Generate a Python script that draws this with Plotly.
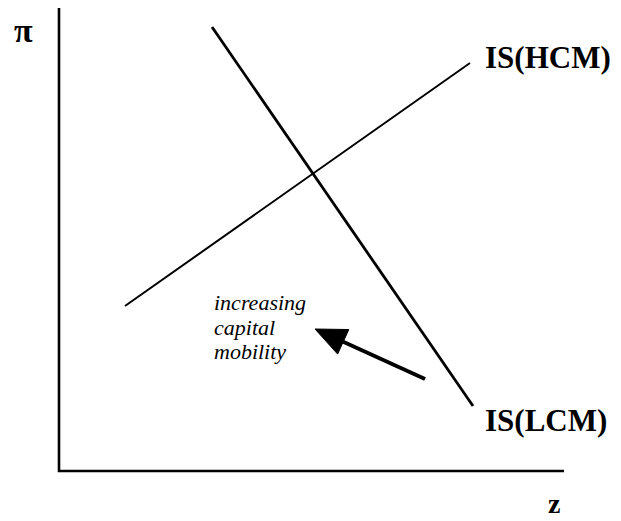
import numpy as np
import plotly.graph_objects as go

# Diagram data (arbitrary units: z horizontal, pi vertical, origin at axis corner)
axis_z_end = 505
axis_pi_end = 463
hcm_z = [66, 411]
hcm_pi = [165, 408]
lcm_z = [153, 414]
lcm_pi = [444, 65]
arrow_tail = [366, 92]
arrow_tip = [256, 142]
note_lines = ["increasing", "capital", "mobility"]
note_x = 153
note_y = [168.5, 143.5, 119.5]
curve_labels = ["IS(HCM)", "IS(LCM)"]
curve_label_pos = [(424, 414), (424, 51)]
axis_labels = ["π", "z"]
axis_label_pos = [(-36, 441), (495, -32)]

SERIF = "Liberation Serif"

fig = go.Figure()

# axes
fig.add_trace(go.Scatter(x=[0, 0, axis_z_end], y=[axis_pi_end, 0, 0], mode="lines",
                         line=dict(color="black", width=2.6), hoverinfo="skip"))
# IS curves
fig.add_trace(go.Scatter(x=hcm_z, y=hcm_pi, mode="lines",
                         line=dict(color="black", width=2.0), hoverinfo="skip"))
fig.add_trace(go.Scatter(x=lcm_z, y=lcm_pi, mode="lines",
                         line=dict(color="black", width=2.8), hoverinfo="skip"))

# arrow: shaft + filled triangular head (units equal pixels here)
tail = np.array(arrow_tail, float)
tip = np.array(arrow_tip, float)
d = tip - tail
u = d / np.linalg.norm(d)
perp = np.array([-u[1], u[0]])
head_len, half_w = 31.0, 13.5
base = tip - u * head_len
fig.add_trace(go.Scatter(x=[tail[0], base[0]], y=[tail[1], base[1]], mode="lines",
                         line=dict(color="black", width=3.8), hoverinfo="skip"))
c1 = base + perp * half_w
c2 = base - perp * half_w
fig.add_trace(go.Scatter(x=[tip[0], c1[0], c2[0], tip[0]], y=[tip[1], c1[1], c2[1], tip[1]],
                         mode="lines", fill="toself", fillcolor="black",
                         line=dict(color="black", width=1), hoverinfo="skip"))

annotations = []
for txt, (x, y) in zip(curve_labels, curve_label_pos):
    annotations.append(dict(x=x, y=y, text=f"<b>{txt}</b>", showarrow=False,
                            xanchor="left", yanchor="middle",
                            font=dict(family=SERIF, size=31, color="black")))
for txt, (x, y), sz in zip(axis_labels, axis_label_pos, [34, 28]):
    annotations.append(dict(x=x, y=y, text=f"<b>{txt}</b>", showarrow=False,
                            xanchor="center", yanchor="middle",
                            font=dict(family=SERIF, size=sz, color="black")))
for txt, y in zip(note_lines, note_y):
    annotations.append(dict(x=note_x, y=y, text=f"<i>{txt}</i>", showarrow=False,
                            xanchor="left", yanchor="middle",
                            font=dict(family=SERIF, size=22, color="black")))

# The page body has an 8px margin, so the figure is 8px smaller and its ranges start 8px in.
fig.update_layout(
    width=613, height=513,
    margin=dict(l=0, r=0, t=0, b=0),
    paper_bgcolor="white", plot_bgcolor="white",
    showlegend=False,
    xaxis=dict(range=[-51, 562], visible=False, fixedrange=True),
    yaxis=dict(range=[-50, 463], visible=False, fixedrange=True),
    annotations=annotations,
)

fig.write_html("out.html")
